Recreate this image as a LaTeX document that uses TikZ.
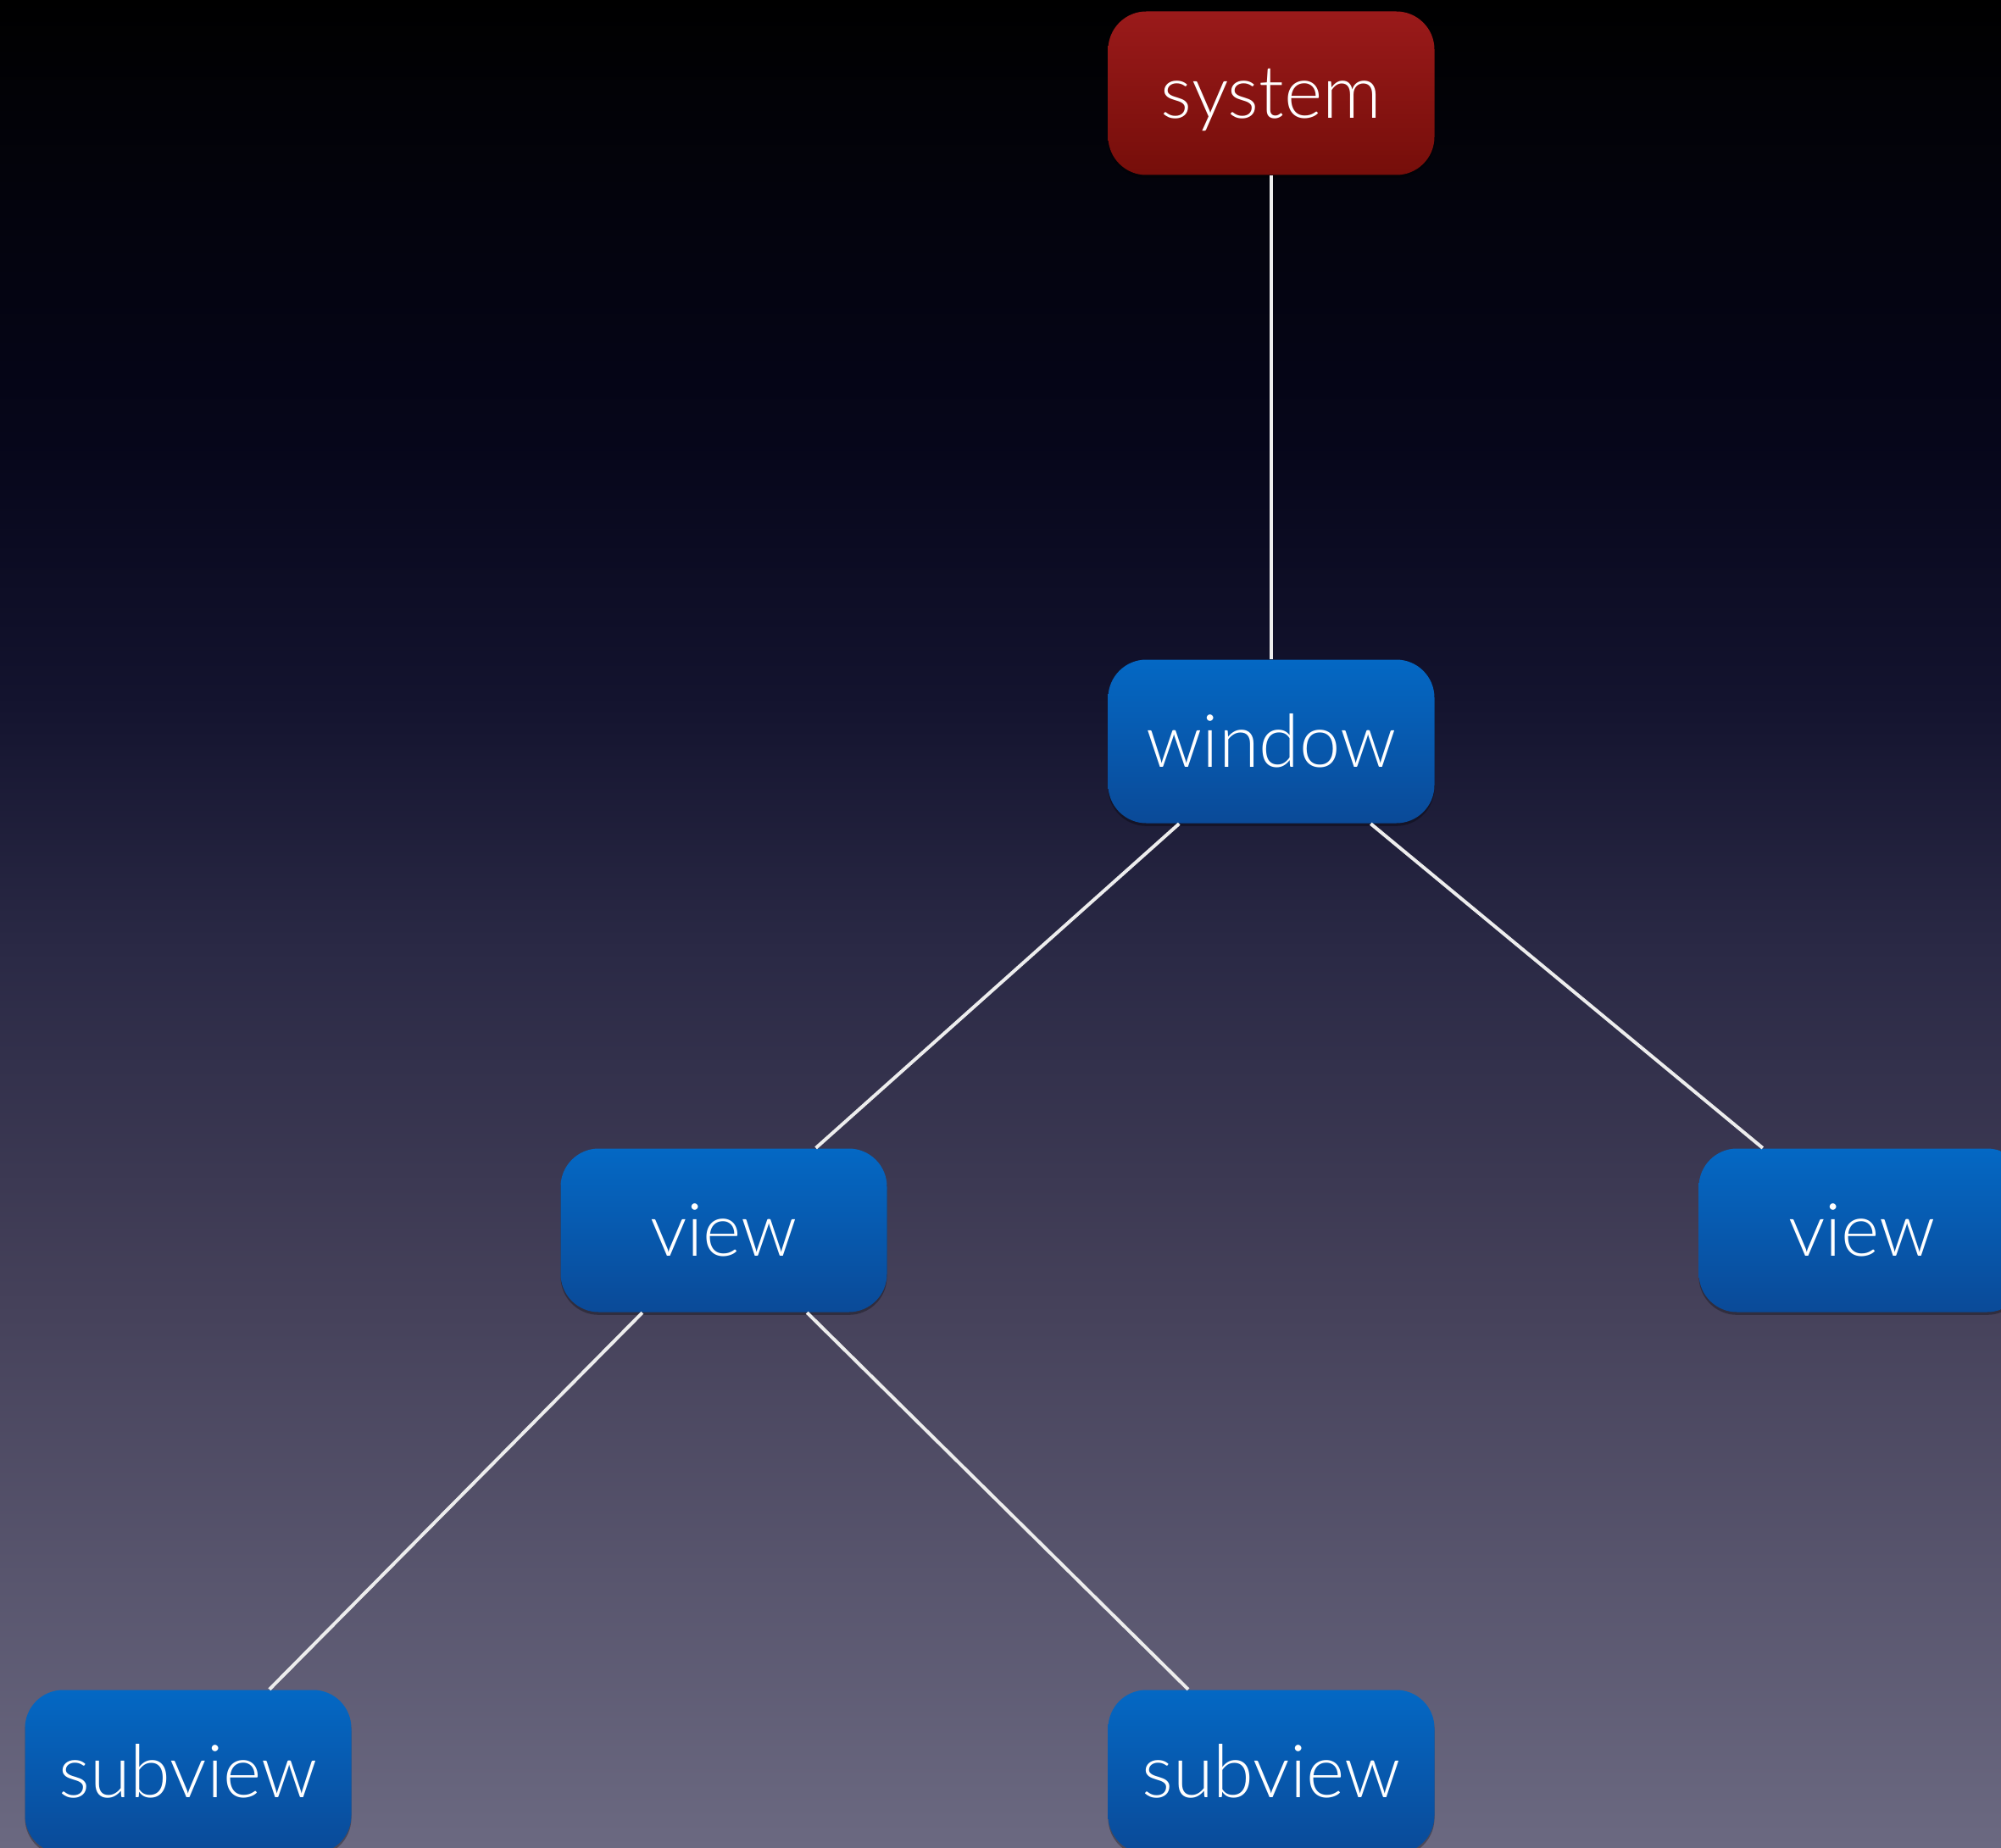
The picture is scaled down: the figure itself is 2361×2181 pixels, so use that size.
\documentclass[tikz,border=0pt]{standalone}
\usepackage{fontspec}
\setmainfont{Lato}[UprightFont=* Light]
\usetikzlibrary{shadows}
\definecolor{bgA}{HTML}{000000}
\definecolor{bgB}{HTML}{020207}
\definecolor{bgC}{HTML}{06061A}
\definecolor{bgD}{HTML}{13132E}
\definecolor{bgE}{HTML}{2A2945}
\definecolor{bgF}{HTML}{444059}
\definecolor{bgG}{HTML}{6B6981}
\definecolor{blueTop}{HTML}{0468C4}
\definecolor{blueBot}{HTML}{0A4A98}
\definecolor{redTop}{HTML}{9A1A1A}
\definecolor{redBot}{HTML}{760E0A}
\tikzset{
  box/.style={rounded corners=13.5pt, minimum width=115.5pt, minimum height=57.9pt,
    inner sep=0pt, text height=18pt, text depth=0pt, text=white,
    font=\fontsize{26}{30}\selectfont,
    drop shadow={opacity=0.3, shadow xshift=0pt, shadow yshift=-1pt, fill=black}},
  bluebox/.style={box, top color=blueTop, bottom color=blueBot},
  redbox/.style={box, top color=redTop, bottom color=redBot},
  link/.style={draw=white!93!black, line width=1.2pt}
}
\begin{document}
\begin{tikzpicture}[x=0.3pt, y=-0.3pt]
\useasboundingbox (0,0) rectangle (2361,2181);
\shade[top color=bgA, bottom color=bgB] (0,0) rectangle (2361,120);
\shade[top color=bgB, bottom color=bgC] (0,120) rectangle (2361,520);
\shade[top color=bgC, bottom color=bgD] (0,520) rectangle (2361,820);
\shade[top color=bgD, bottom color=bgE] (0,820) rectangle (2361,1120);
\shade[top color=bgE, bottom color=bgF] (0,1120) rectangle (2361,1520);
\shade[top color=bgF, bottom color=bgG] (0,1520) rectangle (2361,2181);

\node[redbox]  (system)   at (1500,110)  {system};
\node[bluebox] (window)   at (1500,875)  {window};
\node[bluebox] (viewL)    at (854,1452)  {view};
\node[bluebox] (viewR)    at (2197,1452) {view};
\node[bluebox] (subviewL) at (222,2091)  {subview};
\node[bluebox] (subviewR) at (1500,2091) {subview};

\draw[link] (system) -- (window);
\draw[link] (window) -- (viewL);
\draw[link] (window) -- (viewR);
\draw[link] (viewL) -- (subviewL);
\draw[link] (viewL) -- (subviewR);
\end{tikzpicture}
\end{document}
